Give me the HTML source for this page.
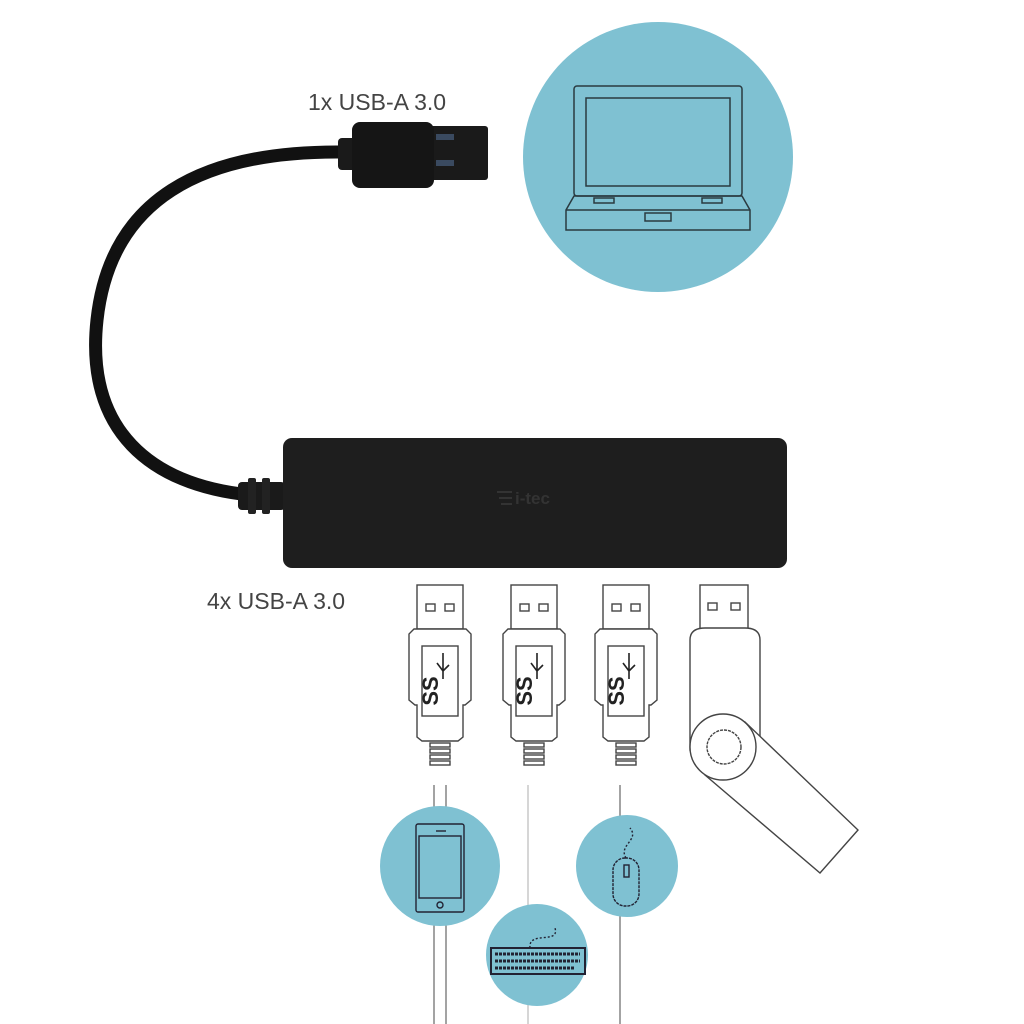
<!DOCTYPE html>
<html><head><style>
html,body{margin:0;padding:0;background:#fff;width:1024px;height:1024px;overflow:hidden}
text{font-family:"Liberation Sans",sans-serif}
</style></head><body>
<svg width="1024" height="1024" viewBox="0 0 1024 1024" xmlns="http://www.w3.org/2000/svg">
<rect width="1024" height="1024" fill="#fff"/>
<circle cx="658" cy="157" r="135" fill="#7fc1d2"/>
<g fill="none" stroke="#2a3a40" stroke-width="1.5">
<rect x="574" y="86" width="168" height="110" rx="3"/>
<rect x="586" y="98" width="144" height="88"/>
<path d="M574 196 L566 210 L566 230 L750 230 L750 210 L742 196 Z"/>
<path d="M566 210 L750 210"/>
<rect x="645" y="213" width="26" height="8"/>
<rect x="594" y="198" width="20" height="5"/><rect x="702" y="198" width="20" height="5"/>
</g>
<text x="308" y="110" font-size="23" fill="#444">1x USB-A 3.0</text>
<text x="207" y="609" font-size="23" fill="#444">4x USB-A 3.0</text>
<path d="M345 152 C200 150 110 200 97 320 C85 430 150 485 250 495" fill="none" stroke="#111" stroke-width="13"/>
<rect x="238" y="482" width="47" height="28" rx="4" fill="#1a1a1a"/>
<rect x="248" y="478" width="8" height="36" rx="2" fill="#222"/>
<rect x="262" y="478" width="8" height="36" rx="2" fill="#222"/>
<rect x="430" y="126" width="58" height="54" rx="3" fill="#1a1a1a"/>
<rect x="436" y="134" width="18" height="6" fill="#3a4a60"/>
<rect x="436" y="160" width="18" height="6" fill="#3a4a60"/>
<rect x="338" y="138" width="20" height="32" rx="4" fill="#1a1a1a"/>
<rect x="352" y="122" width="82" height="66" rx="8" fill="#151515"/>
<rect x="283" y="438" width="504" height="130" rx="9" fill="#1e1e1e"/>
<text x="515" y="504" font-size="17" fill="#333" font-weight="bold">i-tec</text>
<g stroke="#333" stroke-width="2"><line x1="497" y1="492" x2="512" y2="492"/><line x1="499" y1="498" x2="512" y2="498"/><line x1="501" y1="504" x2="512" y2="504"/></g>
<g stroke="#666" stroke-width="1.2">
<line x1="434" y1="785" x2="434" y2="1024"/><line x1="446" y1="785" x2="446" y2="1024"/>
<line x1="528" y1="785" x2="528" y2="1024" stroke="#bbb"/>
<line x1="620" y1="785" x2="620" y2="1024"/>
</g>
<circle cx="440" cy="866" r="60" fill="#7fc1d2"/>
<circle cx="537" cy="955" r="51" fill="#7fc1d2"/>
<circle cx="627" cy="866" r="51" fill="#7fc1d2"/>
<g fill="none" stroke="#223" stroke-width="1.4">
<rect x="416" y="824" width="48" height="88" rx="2"/>
<rect x="419" y="836" width="42" height="62"/>
<circle cx="440" cy="905" r="3"/>
<line x1="436" y1="831" x2="446" y2="831"/>
<rect x="613" y="858" width="26" height="48" rx="12" stroke-dasharray="3 1"/>
<rect x="624" y="865" width="5" height="12"/>
<path d="M626 858 C618 845 640 840 630 828" stroke-dasharray="2 2"/>
<rect x="491" y="948" width="94" height="26" stroke-width="2"/>
<path d="M530 948 C528 930 560 945 555 928" stroke-dasharray="2 2"/>
</g>
<g stroke="#223" stroke-width="3" stroke-dasharray="3 1"><line x1="495" y1="954" x2="580" y2="954"/><line x1="495" y1="961" x2="580" y2="961"/><line x1="495" y1="968" x2="575" y2="968"/></g>
<defs>
<g id="plug" fill="#fff" stroke="#444" stroke-width="1.4">
<rect x="-23" y="0" width="46" height="44"/>
<rect x="-14" y="19" width="9" height="7"/><rect x="5" y="19" width="9" height="7"/>
<path d="M-26 44 L26 44 L31 49 L31 115 L25 120 L23 120 L23 152 L18 156 L-18 156 L-23 152 L-23 120 L-25 120 L-31 115 L-31 49 Z"/>
<rect x="-18" y="61" width="36" height="70"/>
<rect x="-10" y="158" width="20" height="4"/><rect x="-10" y="164" width="20" height="4"/><rect x="-10" y="170" width="20" height="4"/><rect x="-10" y="176" width="20" height="4"/>
<text x="-2" y="106" font-size="22" font-weight="bold" fill="#222" stroke="none" text-anchor="middle" transform="rotate(-90 -2 106)">SS</text>
<path d="M3 68 L3 94 M-3 78 L3 86 L9 80" fill="none" stroke="#222" stroke-width="1.6"/>
</g>
</defs>
<use href="#plug" x="440" y="585"/>
<use href="#plug" x="534" y="585"/>
<use href="#plug" x="626" y="585"/>
<g fill="#fff" stroke="#444" stroke-width="1.4">
<rect x="700" y="585" width="48" height="44"/>
<rect x="708" y="603" width="9" height="7"/><rect x="731" y="603" width="9" height="7"/>
<path d="M690 640 Q690 628 705 628 L745 628 Q760 628 760 640 L760 750 L690 750 Z"/>
<polygon points="705,775 820,873 858,830 745,722"/>
<circle cx="723" cy="747" r="33"/>
<circle cx="724" cy="747" r="17" stroke-dasharray="3 1"/>
</g>
</svg>
</body></html>
